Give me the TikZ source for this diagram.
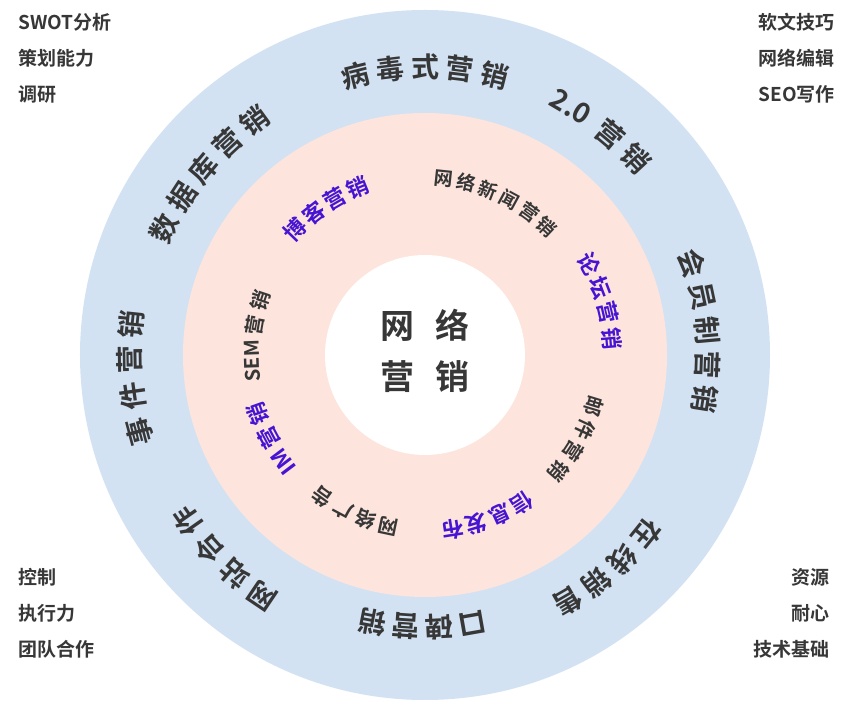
\documentclass[tikz,border=0pt]{standalone}
\usepackage{fontspec}
\newfontfamily\cjk{Noto Sans CJK SC Bold}
\definecolor{ringblue}{RGB}{210,226,243}
\definecolor{ringpink}{RGB}{253,229,221}
\definecolor{txtblue}{RGB}{70,20,210}
\definecolor{txtgray}{RGB}{55,55,55}
\tikzset{ch/.style={inner sep=0pt,text=txtgray,font=\cjk}}
\newcommand{\arcTxt}[6]{% radius, start angle, step, fontsize, color, list
  \foreach \c [count=\i from 0] in {#6}{
    \pgfmathsetmacro{\ang}{#2-\i*#3}
    \node[ch,text=#5,font=\cjk\fontsize{#4}{#4}\selectfont,rotate=\ang-90] at (\ang:#1pt) {\c};
  }}
\begin{document}
\begin{tikzpicture}[x=1pt,y=1pt]
\useasboundingbox (-425,-353) rectangle (423,355);
\fill[white] (-425,-353) rectangle (423,355);
\fill[ringblue] (0,0) circle (345);
\fill[ringpink] (0,0) circle (242);
\fill[white] (0,0) circle (100);
% center
\node[ch,font=\cjk\fontsize{34}{34}\selectfont] (c1) at (0,30) {网\hspace{0.6em}络};
\node[ch,font=\cjk\fontsize{34}{34}\selectfont] (c2) at (0,-22) {营\hspace{0.6em}销};
% outer ring
\arcTxt{288}{104}{7}{28}{txtgray}{病,毒,式,营,销}
\arcTxt{288}{59.5}{1}{28}{txtgray}{2.0}
\arcTxt{288}{50}{7}{28}{txtgray}{营,销}
\arcTxt{283}{19}{7}{28}{txtgray}{会,员,制,营,销}
\arcTxt{285}{-39}{7}{28}{txtgray}{在,线,销,售}
\arcTxt{272}{-80}{7}{28}{txtgray}{口,碑,营,销}
\arcTxt{290}{236}{7}{28}{txtgray}{网,站,合,作}
\arcTxt{295}{195}{7}{28}{txtgray}{事,件,营,销}
\arcTxt{290}{154}{7}{28}{txtgray}{数,据,库,营,销}
% inner ring
\arcTxt{177}{84}{7.5}{19}{txtgray}{网,络,新,闻,营,销}
\arcTxt{188}{29}{8}{22}{txtblue}{论,坛,营,销}
\arcTxt{177}{-17}{8}{20}{txtgray}{邮,件,营,销}
\arcTxt{177}{-57}{8}{22}{txtblue}{信,息,发,布}
\arcTxt{175}{258}{8}{20}{txtgray}{网,络,广,告}
\arcTxt{177}{217}{1}{22}{txtblue}{IM}
\arcTxt{177}{208}{8.5}{22}{txtblue}{营,销}
\arcTxt{173}{182}{1}{20}{txtgray}{SEM}
\arcTxt{173}{170}{8.5}{20}{txtgray}{营,销}
\arcTxt{180}{136}{8}{22}{txtblue}{博,客,营,销}
% corners
\tikzset{corner/.style={inner sep=0pt,text=txtgray,font=\cjk\fontsize{19}{36}\selectfont}}
\node[corner,anchor=north west,align=left] (tl) at (-407,342) {SWOT分析\\策划能力\\调研};
\node[corner,anchor=north east,align=right] (tr) at (410,342) {软文技巧\\网络编辑\\SEO写作};
\node[corner,anchor=north west,align=left] (bl) at (-407,-213) {控制\\执行力\\团队合作};
\node[corner,anchor=north east,align=right] (br) at (405,-213) {资源\\耐心\\技术基础};
\end{tikzpicture}
\end{document}
